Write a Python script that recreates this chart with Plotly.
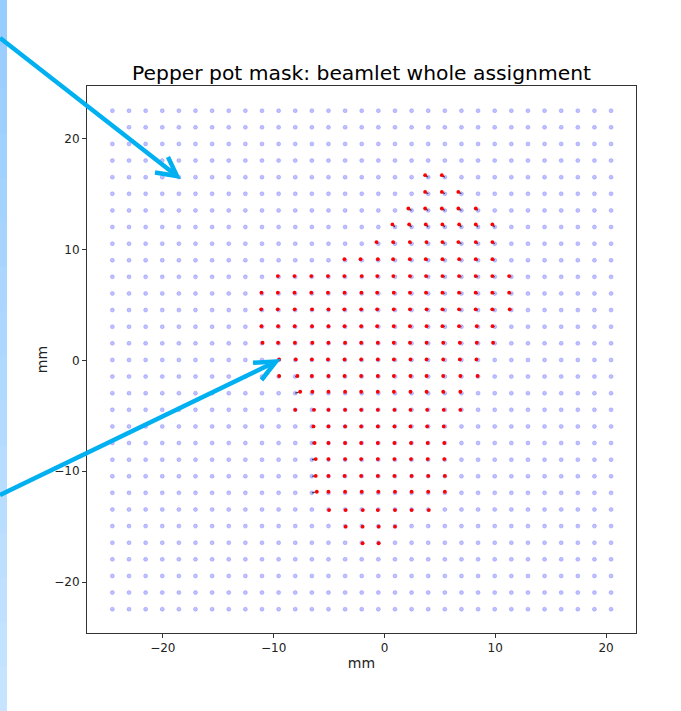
import numpy as np
import plotly.graph_objects as go

# ---------------- data ----------------
grid_x = [-24.55, -23.05, -21.55, -20.05, -18.55, -17.05, -15.55, -14.05, -12.55, -11.05,
          -9.55, -8.05, -6.55, -5.05, -3.55, -2.05, -0.55, 0.95, 2.45, 3.95,
          5.45, 6.95, 8.45, 9.95, 11.45, 12.95, 14.45, 15.95, 17.45, 18.95, 20.45]
grid_y = [22.55, 21.05, 19.55, 18.05, 16.55, 15.05, 13.55, 12.05, 10.55, 9.05,
          7.55, 6.05, 4.55, 3.05, 1.55, 0.05, -1.45, -2.95, -4.45, -5.95,
          -7.45, -8.95, -10.45, -11.95, -13.45, -14.95, -16.45, -17.95, -19.45, -20.95, -22.45]
missing_holes = [(-24.55, 21.05)]

# measured beamlet centres, one list of x values per row
beam_row_y = [16.73, 15.22, 13.72, 12.28, 10.69, 9.15, 7.62, 6.12, 4.62, 3.10, 1.60, 0.10,
              -1.40, -2.82, -4.45, -5.95, -7.45, -8.90, -10.42, -11.85, -13.50, -15.00, -16.50]
beam_row_x = [
    [3.67, 5.18],
    [3.67, 5.18, 6.67],
    [2.16, 3.67, 5.18, 6.67, 8.24],
    [0.72, 2.23, 3.73, 5.23, 6.74, 8.24, 9.74],
    [-0.72, 0.78, 2.29, 3.79, 5.23, 6.67, 8.24, 9.74],
    [-3.61, -2.16, -0.60, 0.78, 2.29, 3.73, 5.23, 6.74, 8.24, 9.74],
    [-9.62, -8.12, -6.60, -5.10, -3.62, -2.05, -0.65, 0.80, 2.30, 3.75, 5.23, 6.73, 8.23, 9.73, 11.25],
    [-11.10, -9.62, -8.12, -6.60, -5.10, -3.60, -2.08, -0.66, 0.84, 2.30, 3.75, 5.23, 6.73, 8.23, 9.73, 11.25],
    [-11.12, -9.63, -8.10, -6.53, -5.05, -3.62, -2.10, -0.66, 0.84, 2.30, 3.80, 5.23, 6.73, 8.23, 9.73, 11.30],
    [-11.10, -9.60, -8.10, -6.53, -5.05, -3.60, -2.10, -0.66, 0.84, 2.30, 3.80, 5.23, 6.73, 8.33, 9.75],
    [-11.00, -9.60, -8.08, -6.50, -5.05, -3.55, -2.10, -0.60, 0.84, 2.30, 3.80, 5.30, 6.80, 8.33, 9.80],
    [-9.50, -8.00, -6.55, -5.10, -3.60, -2.10, -0.60, 0.85, 2.35, 3.80, 5.30, 6.80, 8.30],
    [-9.50, -7.85, -6.55, -5.05, -3.60, -2.10, -0.60, 0.85, 2.35, 3.80, 5.30, 6.85, 8.40],
    [-7.60, -6.50, -5.05, -3.55, -2.10, -0.60, 0.85, 2.35, 3.80, 5.30, 6.85],
    [-8.05, -6.35, -5.05, -3.55, -2.10, -0.60, 0.90, 2.35, 3.85, 5.35, 6.85],
    [-6.40, -5.05, -3.55, -2.10, -0.60, 0.90, 2.35, 3.85, 5.35],
    [-6.30, -5.05, -3.55, -2.10, -0.60, 0.90, 2.40, 3.90, 5.40],
    [-6.20, -5.05, -3.55, -2.10, -0.60, 0.90, 2.40, 3.90, 5.40],
    [-6.20, -5.05, -3.60, -2.10, -0.60, 0.90, 2.45, 3.95, 5.45],
    [-6.10, -5.05, -3.55, -2.05, -0.55, 0.95, 2.45, 3.95, 5.45],
    [-5.00, -3.50, -1.95, -0.60, 0.95, 2.45, 4.00],
    [-3.50, -1.97, -0.52, 0.95],
    [-1.97, -0.52],
]

x_ticks = [-20, -10, 0, 10, 20]
y_ticks = [-20, -10, 0, 10, 20]
title_text = "Pepper pot mask: beamlet whole assignment"
x_label = "mm"
y_label = "mm"

# ---------------- build ----------------
gx, gy = [], []
for yv in grid_y:
    for xv in grid_x:
        if (xv, yv) in missing_holes:
            continue
        gx.append(xv)
        gy.append(yv)

bx, by = [], []
for yv, xs in zip(beam_row_y, beam_row_x):
    for xv in xs:
        bx.append(xv)
        by.append(yv)

# assignment lines: each beamlet -> nearest hole
GX = np.array(gx)
GY = np.array(gy)
lx, ly = [], []
for xv, yv in zip(bx, by):
    k = int(np.argmin((GX - xv) ** 2 + (GY - yv) ** 2))
    lx += [GX[k], xv, None]
    ly += [GY[k], yv, None]

fig = go.Figure()
fig.add_trace(go.Scatter(x=gx, y=gy, mode="markers",
                         marker=dict(size=4, color="rgba(90,90,255,0.38)",
                                     line=dict(width=0.6, color="rgba(90,90,255,0.45)")),
                         hoverinfo="skip", showlegend=False))
fig.add_trace(go.Scatter(x=lx, y=ly, mode="lines",
                         line=dict(color="rgba(0,0,0,0.7)", width=1.2),
                         hoverinfo="skip", showlegend=False))
fig.add_trace(go.Scatter(x=bx, y=by, mode="markers",
                         marker=dict(size=3.8, color="#ff0000", line=dict(width=0)),
                         hoverinfo="skip", showlegend=False))

# ---------------- layout ----------------
W, H = 681, 711
L, R, T, B = 87, 45, 86, 78
pw, ph = W - L - R, H - T - B


def px(xp, yp):
    return (xp - L) / pw, (H - B - yp) / ph


shapes = []
# light blue band at left edge (gradient)
nb = 16
for i in range(nb):
    t = i / (nb - 1)
    r = int(152 + (198 - 152) * t)
    g = int(205 + (228 - 205) * t)
    x0, y0 = px(0, H * i / nb)
    x1, y1 = px(7, H * (i + 1) / nb + 1)
    shapes.append(dict(type="rect", xref="paper", yref="paper", x0=x0, x1=x1, y0=y1, y1=y0,
                       fillcolor=f"rgb({r},{g},255)", line=dict(width=0), layer="above"))

arrow_col = "#00b0f0"
arrows = [
    ((0, 38), (177, 176), (155, 172.5), (168, 157)),
    ((0, 495), (276, 361.5), (253, 362.7), (261.5, 380)),
]
for start, tip, h1, h2 in arrows:
    sx, sy = px(*start)
    tx, ty = px(*tip)
    shapes.append(dict(type="line", xref="paper", yref="paper", x0=sx, y0=sy, x1=tx, y1=ty,
                       line=dict(color=arrow_col, width=4.5), layer="above"))
    a1 = px(*h1)
    a2 = px(*h2)
    path = f"M {a1[0]},{a1[1]} L {tx},{ty} L {a2[0]},{a2[1]}"
    shapes.append(dict(type="path", xref="paper", yref="paper", path=path,
                       line=dict(color=arrow_col, width=4.5), layer="above"))

font_family = "DejaVu Sans"
fig.update_layout(
    width=W, height=H,
    margin=dict(l=L, r=R, t=T, b=B, pad=0),
    paper_bgcolor="white", plot_bgcolor="white",
    font=dict(family=font_family, size=12, color="#222222"),
    title=dict(text=title_text, x=0.5, xref="paper", xanchor="center",
               y=1, yref="paper", yanchor="bottom", pad=dict(b=6),
               font=dict(family=font_family, size=20.3, color="black")),
    shapes=shapes,
    showlegend=False,
)
fig.update_xaxes(range=[-26.84, 22.70], tickvals=x_ticks, ticks="outside", ticklen=4,
                 tickcolor="#333", tickwidth=1, showgrid=False, zeroline=False,
                 showline=True, linecolor="#333", linewidth=1, mirror=True,
                 tickfont=dict(size=12, color="#222"),
                 title=dict(text=x_label, font=dict(size=14, color="#222"), standoff=3))
fig.update_yaxes(range=[-24.6, 24.78], tickvals=y_ticks, ticks="outside", ticklen=4,
                 tickcolor="#333", tickwidth=1, showgrid=False, zeroline=False,
                 showline=True, linecolor="#333", linewidth=1, mirror=True,
                 tickfont=dict(size=12, color="#222"),
                 title=dict(text=y_label, font=dict(size=14, color="#222"), standoff=3))

fig.write_html("out.html")
